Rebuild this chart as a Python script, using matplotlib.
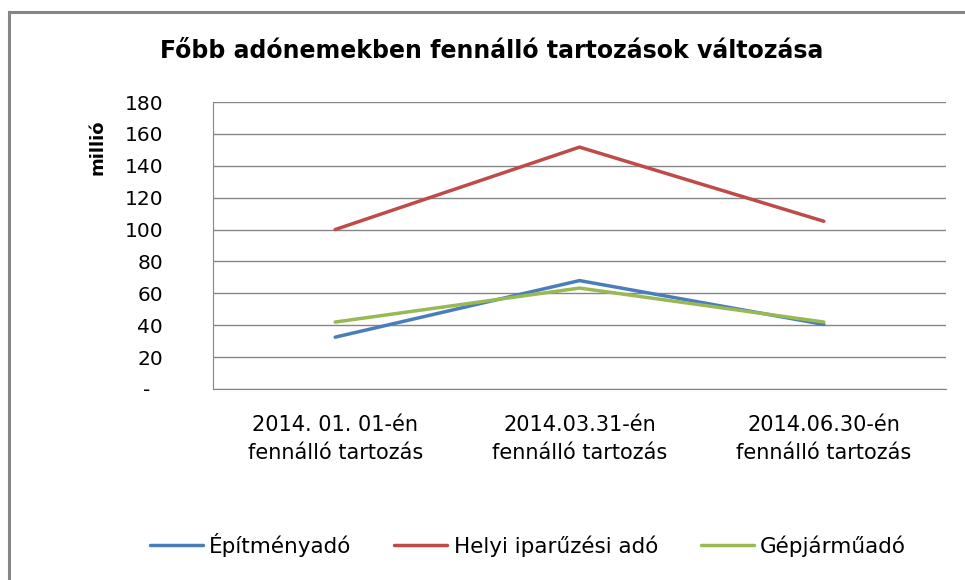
import matplotlib
matplotlib.use('Agg')
import matplotlib.pyplot as plt
from matplotlib.patches import Rectangle

categories = ['2014. 01. 01-én\nfennálló tartozás',
              '2014.03.31-én\nfennálló tartozás',
              '2014.06.30-én\nfennálló tartozás']
epitmenyado = [32.5, 68, 40.5]
iparuzesi = [100, 151.7, 105.2]
gepjarmuado = [42, 63.3, 42]
series_names = ['Építményadó', 'Helyi iparűzési adó', 'Gépjárműadó']
yticks = [0, 20, 40, 60, 80, 100, 120, 140, 160, 180]
ytick_labels = ['-  '] + [str(v) for v in yticks[1:]]

plt.rcParams['font.family'] = ['DejaVu Sans']

fig = plt.figure(figsize=(9.65, 5.8), dpi=100)
W, H = 965, 580

# outer chart border
fig.patches.append(Rectangle((9 / W, -0.1), 1.2, (568 / H) + 0.1, transform=fig.transFigure,
                             fill=False, edgecolor='#868686', linewidth=2.2))

ax = fig.add_axes([213 / W, 1 - 389 / H, (946 - 213) / W, (389 - 102) / H])
x = range(len(categories))
colors = ['#4a7ebb', '#be4b48', '#98b954']
for vals, name, c in zip([epitmenyado, iparuzesi, gepjarmuado], series_names, colors):
    ax.plot(x, vals, color=c, linewidth=2.5, label=name, solid_capstyle='round')

ax.set_xlim(-0.5, 2.5)
ax.set_ylim(0, 180)
ax.set_yticks(yticks)
ax.set_yticklabels(ytick_labels, fontsize=14.5)
ax.set_xticks(list(x))
ax.set_xticklabels(categories, fontsize=15, linespacing=1.45)
ax.grid(axis='y', color='#868686', linewidth=1)
ax.set_axisbelow(True)
for s in ['top', 'right']:
    ax.spines[s].set_visible(False)
for s in ['left', 'bottom']:
    ax.spines[s].set_color('#868686')
ax.tick_params(axis='y', length=0, pad=36)
ax.tick_params(axis='x', length=0, pad=19)

fig.text(492 / W, 1 - 58 / H, 'Főbb adónemekben fennálló tartozások változása',
         ha='center', va='baseline', fontsize=17, fontweight='bold')
fig.text(97 / W, 1 - 147 / H, 'millió', rotation=90, ha='center', va='center',
         fontsize=13, fontweight='bold')

fig.legend(loc='center', bbox_to_anchor=(528 / W, 1 - 545 / H), ncol=3, frameon=False,
           fontsize=15.5, handlelength=2.45, columnspacing=2.0, handletextpad=0.3)

fig.savefig('out.png', dpi=100)
